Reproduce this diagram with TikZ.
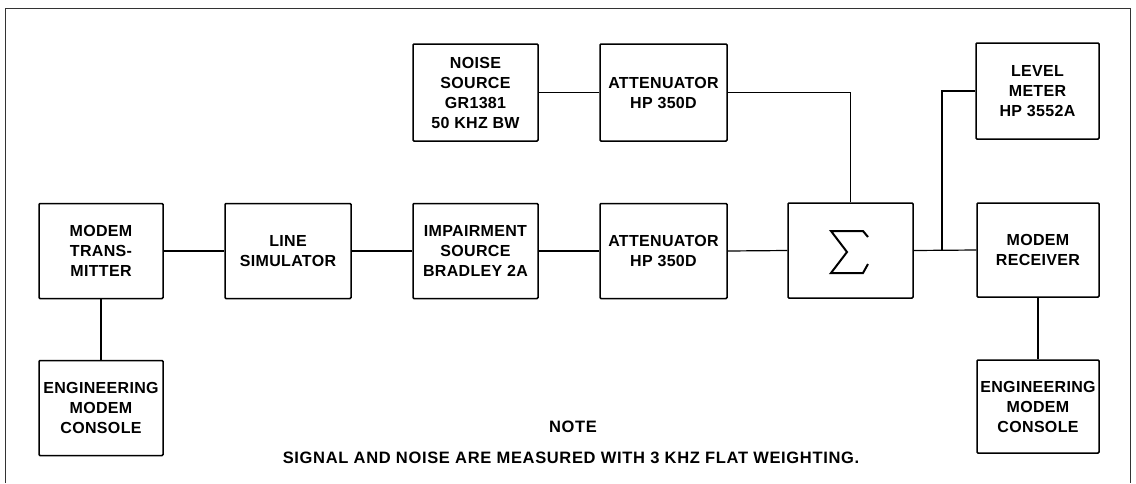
\documentclass[tikz,border=0pt]{standalone}
\usepackage{fontspec}
\setmainfont{Liberation Sans}[LetterSpace=2]
\newfontfamily\notefont{Liberation Sans}[LetterSpace=4]
\begin{document}
\begin{tikzpicture}[x=1pt,y=-1pt,
  blk/.style={draw, line width=1.5pt, rounded corners=1pt, align=center, inner sep=0pt,
    font=\fontsize{16}{20}\selectfont\bfseries},
  wire/.style={line width=1.2pt},
  frame/.style={line width=1pt, draw=black!80},
  note/.style={font=\notefont\fontsize{16.5}{20}\selectfont\bfseries, inner sep=0pt}]
\useasboundingbox (0,0) rectangle (1136,483);
\draw[frame] (5,483) -- (5,8) -- (1130,8) -- (1130,483);

\node[blk, minimum width=124pt, minimum height=95pt] (tx) at (101,251) {MODEM\\TRANS-\\MITTER};
\node[blk, minimum width=124pt, minimum height=95pt] (conl) at (101,408) {ENGINEERING\\MODEM\\CONSOLE};
\node[blk, minimum width=126pt, minimum height=95pt] (line) at (288,251) {LINE\\SIMULATOR};
\node[blk, minimum width=125pt, minimum height=95pt] (imp) at (475.5,251) {IMPAIRMENT\\SOURCE\\BRADLEY 2A};
\node[blk, minimum width=127pt, minimum height=95pt] (att2) at (663.5,251) {ATTENUATOR\\HP 350D};
\node[blk, minimum width=125pt, minimum height=95pt] (sum) at (850.5,250.5) {};
\node[blk, minimum width=122pt, minimum height=94pt] (rx) at (1038,250) {MODEM\\RECEIVER};
\node[blk, minimum width=122pt, minimum height=93pt] (conr) at (1038,406.5) {ENGINEERING\\MODEM\\CONSOLE};
\node[blk, minimum width=123pt, minimum height=96pt] (lvl) at (1037.5,91) {LEVEL\\METER\\HP 3552A};
\node[blk, minimum width=125pt, minimum height=97pt] (noise) at (475.5,92.5) {NOISE\\SOURCE\\GR1381\\50 KHZ BW};
\node[blk, minimum width=127pt, minimum height=97pt] (att1) at (663.5,92.5) {ATTENUATOR\\HP 350D};

% sigma symbol
\draw[line width=2pt, line join=miter, shift={(sum.center)}]
  (17.5,-13.5) -- (12.5,-19.5) -- (-19.5,-19.5) -- (-3.5,1.5) -- (-19.5,22.5) -- (12.5,22.5) -- (17.5,13.5);

\coordinate (j) at (942,250);

\draw[wire] (tx.east) -- (line.west);
\draw[wire] (line.east) -- (imp.west);
\draw[wire] (imp.east) -- (att2.west);
\draw[wire] (att2.east) -- (sum.west);
\draw[wire] (sum.east) -- (rx.west);
\draw[wire] (noise.east) -- (att1.west);
\draw[wire] (att1.east) -| (sum.north);
\draw[wire] (j) |- (lvl.west);
\draw[wire] (tx.south) -- (conl.north);
\draw[wire] (rx.south) -- (conr.north);

\node[note] (nt) at (573,427) {NOTE};
\node[note] (ntx) at (571,458) {SIGNAL AND NOISE ARE MEASURED WITH 3 KHZ FLAT WEIGHTING.};
\end{tikzpicture}
\end{document}
